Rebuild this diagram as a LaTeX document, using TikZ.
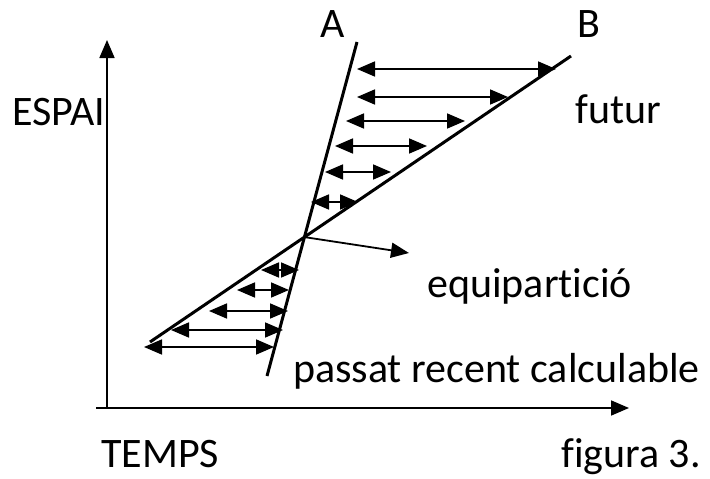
\documentclass[tikz,border=0pt]{standalone}
\usepackage{fontspec}
\setmainfont[Ligatures={NoCommon}]{Carlito}
\usetikzlibrary{arrows.meta}
\begin{document}
\begin{tikzpicture}[x=1pt,y=-1pt,
  lbl/.style={inner sep=0pt,anchor=base west,font=\fontsize{42}{50}\selectfont},
  axis/.style={line width=1.8pt,-{Triangle[length=18pt,width=15pt]}},
  world/.style={line width=3pt},
  dbl/.style={line width=1.8pt,{Triangle[length=18pt,width=15pt]}-{Triangle[length=18pt,width=15pt]}},
  one/.style={line width=1.8pt,-{Triangle[length=18pt,width=15pt]}}]
\useasboundingbox (0,0) rectangle (710,479);
% axes
\coordinate (o) at (107,408);
\coordinate (yt) at (107,40);
\coordinate (x0) at (96,408);
\coordinate (xt) at (629,408);
\draw[axis] (o) -- (yt);
\draw[axis] (x0) -- (xt);
% world lines
\coordinate (a1) at (267,376);
\coordinate (a2) at (357,42);
\coordinate (b1) at (150,342);
\coordinate (b2) at (571,56);
\draw[world] (a1) -- (a2);
\draw[world] (b1) -- (b2);
\coordinate (c) at (intersection of a1--a2 and b1--b2);
% future arrows
\foreach \i/\y/\l/\r in {1/69/357/556,2/97/357/508,3/121/346/465,4/146/335/427,5/172/325/391,6/202/311/358}{
  \coordinate (fl\i) at (\l,\y);
  \coordinate (fr\i) at (\r,\y);
  \draw[dbl] (fl\i) -- (fr\i);
}
% past arrows
\foreach \i/\y/\l/\r in {1/270/261/299,2/290/237/289,3/311/209/288,4/330/171/283,5/347/144/274}{
  \coordinate (pl\i) at (\l,\y);
  \coordinate (pr\i) at (\r,\y);
  \draw[dbl] (pl\i) -- (pr\i);
}
% equipartition arrow
\coordinate (e) at (409,253);
\draw[one] (c) -- (e);
% labels
\node[lbl] (tA) at (320,37) {A};
\node[lbl] (tB) at (577,37) {B};
\node[lbl] (tesp) at (12,125) {ESPAI};
\node[lbl] (tfut) at (575,123) {futur};
\node[lbl] (teq) at (427,297) {equipartició};
\node[lbl] (tpas) at (293,382) {passat recent calculable};
\node[lbl] (ttemps) at (101,467) {TEMPS};
\node[lbl] (tfig) at (561,467) {figura 3.};
\end{tikzpicture}
\end{document}
